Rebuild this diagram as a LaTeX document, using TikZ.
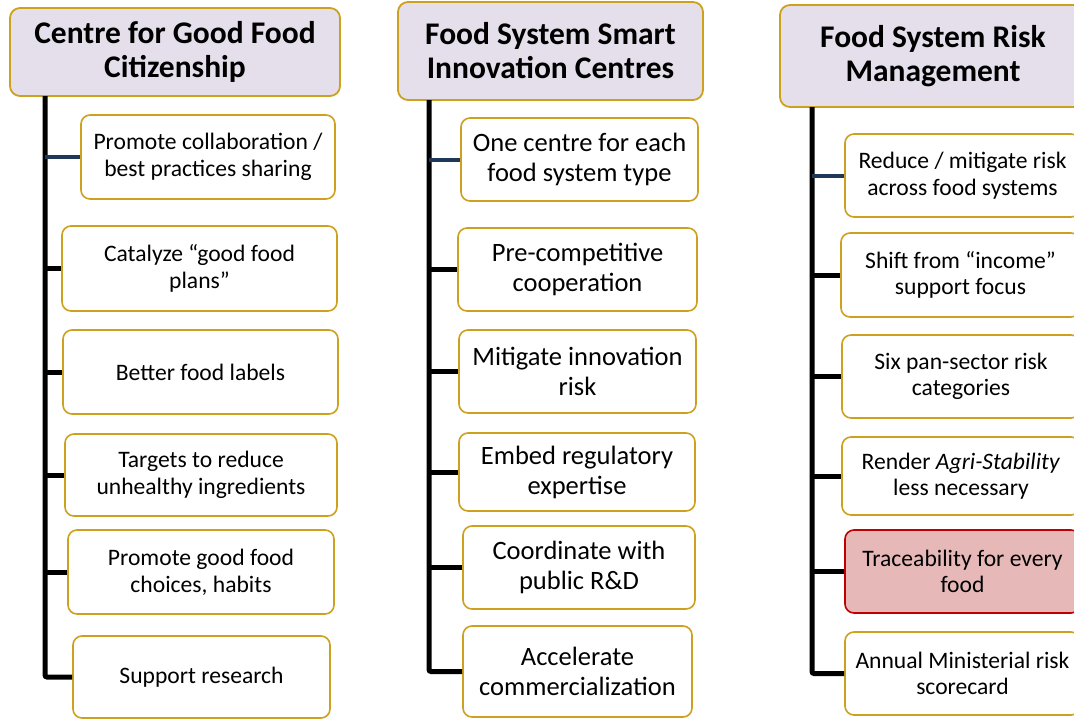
\documentclass[tikz,border=0pt]{standalone}
\usepackage{fontspec}
\setmainfont{Carlito}
\definecolor{gold}{RGB}{205,160,30}
\definecolor{lav}{RGB}{229,223,236}
\definecolor{redfill}{RGB}{230,185,184}
\definecolor{redline}{RGB}{192,0,0}
\definecolor{navy}{RGB}{31,56,90}
\begin{document}
\begin{tikzpicture}[x=1pt,y=-1pt,
  header/.style={draw=gold, fill=lav, line width=1.8pt, rounded corners=10pt, inner sep=0pt, align=center, font=\fontsize{31.5}{34}\selectfont\bfseries},
  item/.style={draw=gold, fill=white, line width=1.6pt, rounded corners=9pt, inner sep=0pt, align=center},
  itemA/.style={item, font=\fontsize{23.6}{27}\selectfont},
  itemB/.style={item, font=\fontsize{26.5}{30}\selectfont},
  itemC/.style={item, font=\fontsize{23.6}{26.5}\selectfont},
  hot/.style={fill=redfill, draw=redline},
  trunk/.style={line width=5pt, black, rounded corners=2pt},
  branch/.style={line width=5pt, black},
  firstbranch/.style={line width=4pt, navy}]
\clip (0,0) rectangle (1074,718);
\useasboundingbox (0,0) rectangle (1074,718);
% ---------- Column 1 ----------
\node[header, minimum width=330pt, minimum height=88pt] (h1) at (175,52) {Centre for Good Food\\Citizenship};
\coordinate (t1) at (45,96);
\node[itemA, minimum width=254pt, minimum height=84pt] (a1) at (208,157) {Promote collaboration /\\best practices sharing};
\node[itemA, minimum width=275pt, minimum height=85pt] (a2) at (199.5,268.5) {Catalyze “good food\\plans”};
\node[itemA, minimum width=275pt, minimum height=84pt] (a3) at (200.5,372) {Better food labels};
\node[itemA, minimum width=272pt, minimum height=82pt] (a4) at (201,475) {Targets to reduce\\unhealthy ingredients};
\node[itemA, minimum width=266pt, minimum height=84pt] (a5) at (201,572) {Promote good food\\choices, habits};
\node[itemA, minimum width=257pt, minimum height=82pt] (a6) at (201.5,677) {Support research};
% ---------- Column 2 ----------
\node[header, minimum width=305pt, minimum height=98pt] (h2) at (550.5,51) {Food System Smart\\Innovation Centres};
\coordinate (t2) at (429,100);
\node[itemB, minimum width=237pt, minimum height=83pt] (b1) at (579.5,159.5) {One centre for each\\food system type};
\node[itemB, minimum width=239pt, minimum height=83pt] (b2) at (577.5,269.5) {Pre-competitive\\cooperation};
\node[itemB, minimum width=237pt, minimum height=83pt] (b3) at (577.5,371.5) {Mitigate innovation\\risk};
\node[itemB, minimum width=236pt, minimum height=78pt] (b4) at (577,472) {Embed regulatory\\expertise};
\node[itemB, minimum width=232pt, minimum height=83pt] (b5) at (579,567.5) {Coordinate with\\public R\&D};
\node[itemB, minimum width=229pt, minimum height=91pt] (b6) at (577.5,671.5) {Accelerate\\commercialization};
% ---------- Column 3 ----------
\node[header, minimum width=306pt, minimum height=102pt] (h3) at (933,56) {Food System Risk\\Management};
\coordinate (t3) at (812,107);
\node[itemC, minimum width=235pt, minimum height=83pt] (c1) at (962.5,175.5) {Reduce / mitigate risk\\across food systems};
\node[itemC, minimum width=239pt, minimum height=84pt] (c2) at (960.5,275) {Shift from “income”\\support focus};
\node[itemC, minimum width=238pt, minimum height=83pt] (c3) at (961,376.5) {Six pan-sector risk\\categories};
\node[itemC, minimum width=238pt, minimum height=78pt] (c4) at (961,476) {Render \textit{Agri-Stability}\\less necessary};
\node[itemC, hot, minimum width=235pt, minimum height=83pt] (c5) at (962.5,571.5) {Traceability for every\\food};
\node[itemC, minimum width=235pt, minimum height=83pt] (c6) at (962.5,673.5) {Annual Ministerial risk\\scorecard};
% ---------- Connectors ----------
\draw[trunk] (t1) |- (a6.west);
\draw[firstbranch] (t1 |- a1.west) -- (a1.west);
\foreach \n in {a2,a3,a4,a5} \draw[branch] (t1 |- \n.west) -- (\n.west);
\draw[trunk] (t2) |- (b6.west);
\draw[firstbranch] (t2 |- b1.west) -- (b1.west);
\foreach \n in {b2,b3,b4,b5} \draw[branch] (t2 |- \n.west) -- (\n.west);
\draw[trunk] (t3) |- (c6.west);
\draw[firstbranch] (t3 |- c1.west) -- (c1.west);
\foreach \n in {c2,c3,c4,c5} \draw[branch] (t3 |- \n.west) -- (\n.west);
\end{tikzpicture}
\end{document}
